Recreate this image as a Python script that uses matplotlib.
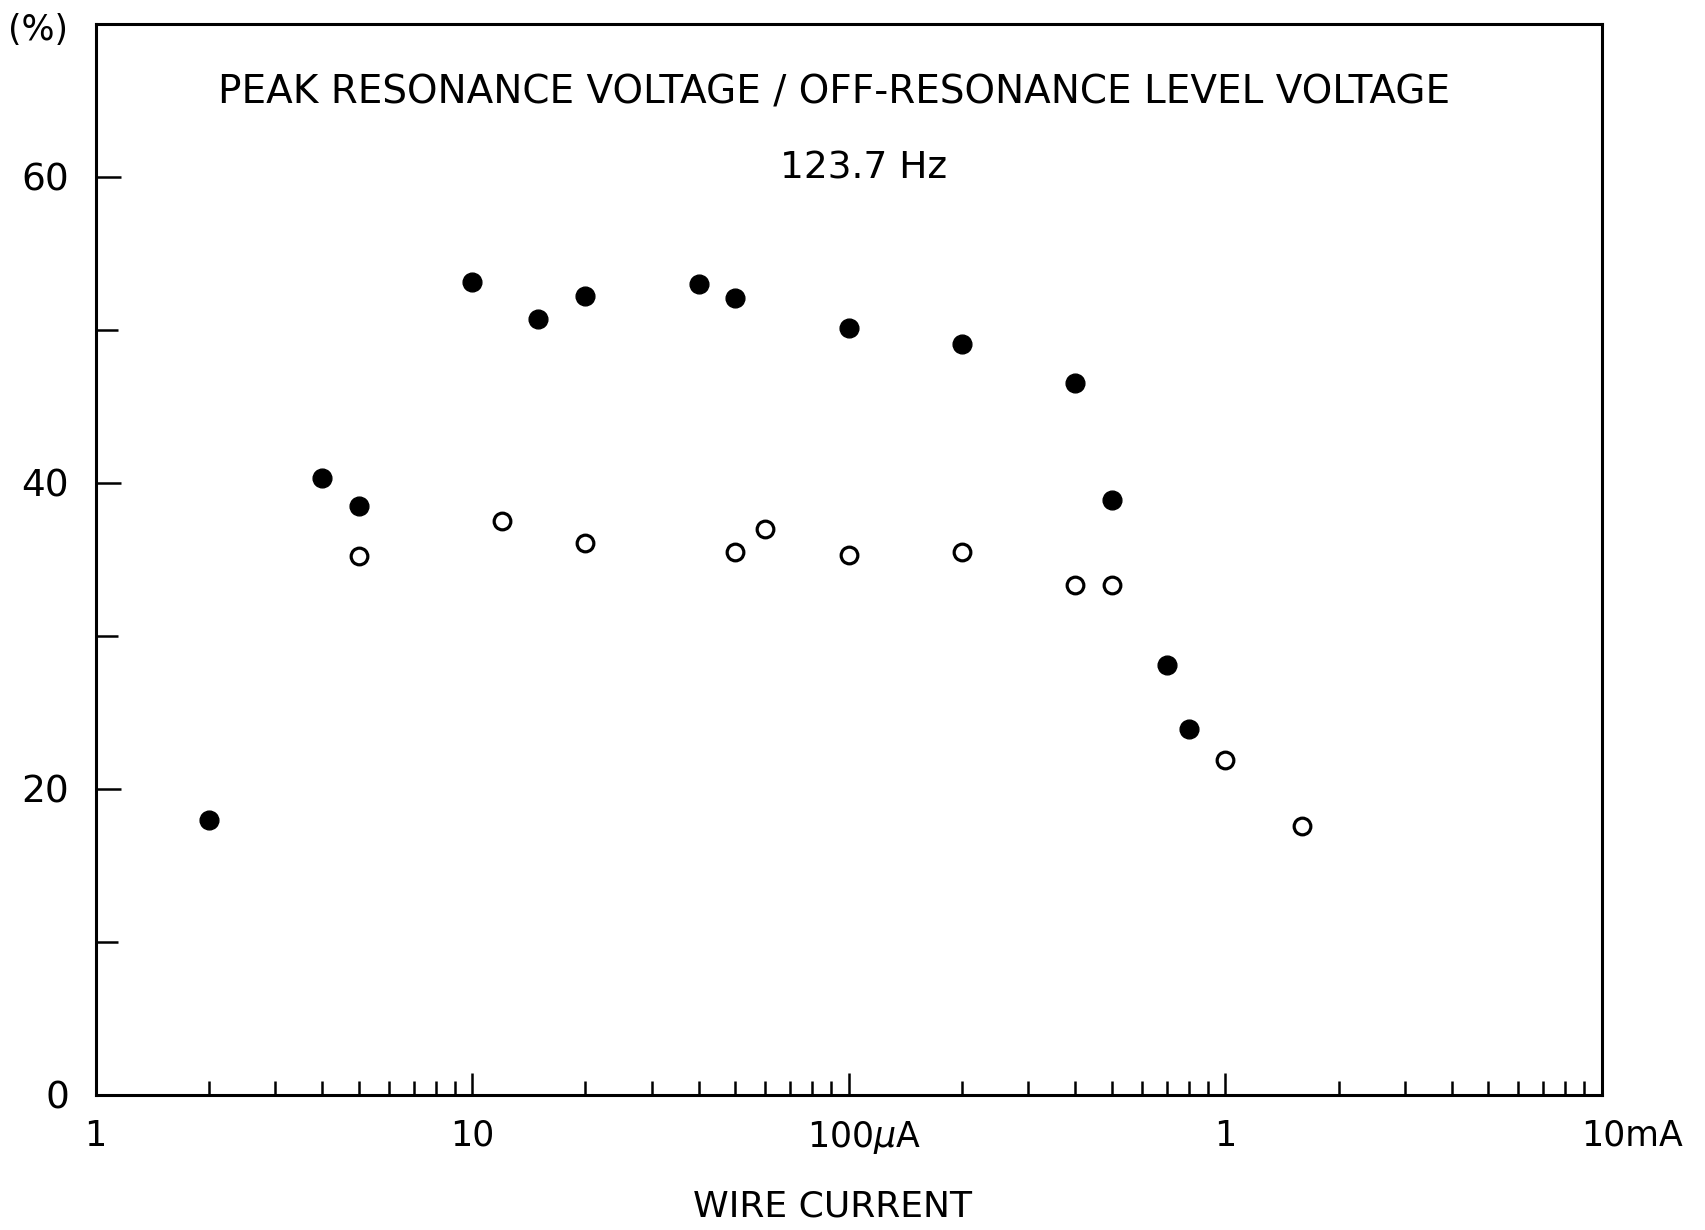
import numpy as np
import matplotlib
matplotlib.use("Agg")
import matplotlib.pyplot as plt
from matplotlib.ticker import FixedLocator, NullFormatter
from matplotlib.transforms import ScaledTranslation

# wire current (uA) and ratio (%)
filled_current = [2, 4, 5, 10, 15, 20, 40, 50, 100, 200, 400, 500, 700, 800]
filled_ratio = [18.0, 40.3, 38.5, 53.1, 50.7, 52.2, 53.0, 52.1, 50.1, 49.1, 46.5, 38.9, 28.1, 23.9]

open_current = [5, 12, 20, 50, 60, 100, 200, 400, 500, 1000, 1600]
open_ratio = [35.2, 37.5, 36.1, 35.5, 37.0, 35.3, 35.5, 33.3, 33.3, 21.9, 17.6]

xticks = [1, 10, 100, 1000, 10000]
xtick_labels = ["1", "10", "100$\\mu$A", "1", "10mA"]
yticks = [0, 20, 40, 60]
yminor = [10, 30, 50]

plt.rcParams["font.family"] = ["DejaVu Sans"]
plt.rcParams["mathtext.fontset"] = "dejavusans"

fig = plt.figure(figsize=(17.05, 12.30), dpi=100)
ax = fig.add_axes([0.0561, 0.1098, 0.8833, 0.8708])

ax.plot(filled_current, filled_ratio, "o", color="black", markersize=13.5, linestyle="none")
ax.plot(open_current, open_ratio, "o", markerfacecolor="white", markeredgecolor="black",
        markersize=12, markeredgewidth=2.3, linestyle="none")

ax.set_xscale("log")
ax.set_xlim(1, 10000)
ax.set_ylim(0, 70)

ax.xaxis.set_major_locator(FixedLocator(xticks))
ax.set_xticklabels(xtick_labels)
minors = [m * d for d in [1, 10, 100, 1000] for m in range(2, 10)]
ax.xaxis.set_minor_locator(FixedLocator(minors))
ax.xaxis.set_minor_formatter(NullFormatter())

ax.set_yticks(yticks)
ax.set_yticklabels([str(v) for v in yticks])
ax.yaxis.set_minor_locator(FixedLocator(yminor))

for s in ax.spines.values():
    s.set_linewidth(2.2)

ax.tick_params(axis="x", which="major", direction="in", length=16, width=1.8,
               labelsize=25, pad=17)
ax.tick_params(axis="x", which="minor", direction="in", length=10, width=1.8)
ax.tick_params(axis="y", which="major", direction="in", length=18, width=1.8,
               labelsize=27, pad=19)
ax.tick_params(axis="y", which="minor", direction="in", length=16, width=1.8)

# labels with units: keep the number centred on the tick
offsets = {2: -30, 4: -15}
for i, lab in enumerate(ax.get_xticklabels()):
    if i in offsets:
        lab.set_horizontalalignment("left")
        lab.set_transform(lab.get_transform() + ScaledTranslation(offsets[i] / 72, 0, fig.dpi_scale_trans))

ax.text(0.49, 0.936, "PEAK RESONANCE VOLTAGE / OFF-RESONANCE LEVEL VOLTAGE",
        transform=ax.transAxes, ha="center", va="center", fontsize=28)
ax.text(0.51, 0.865, "123.7 Hz", transform=ax.transAxes, ha="center", va="center", fontsize=27)

fig.text(0.0223, 0.976, "(%)", ha="center", va="center", fontsize=25)
fig.text(0.488, 0.019, "WIRE CURRENT", ha="center", va="center", fontsize=26)

fig.savefig("out.png", dpi=100)
